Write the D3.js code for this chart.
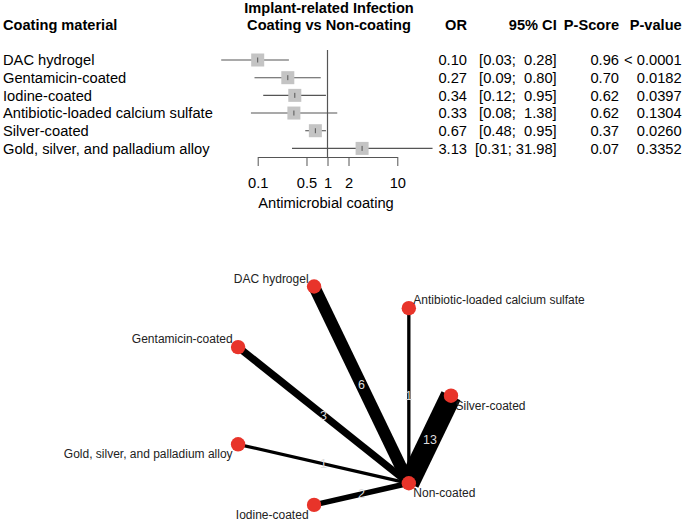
<!DOCTYPE html>
<html><head><meta charset="utf-8">
<script src="https://cdn.jsdelivr.net/npm/d3@7"></script>
<style>
body{margin:0;background:#fff;}
text{font-family:"Liberation Sans",Arial,sans-serif;}
</style></head>
<body><svg id="c" width="685" height="522"></svg>
<script>
// ---------- data ----------
const coatings = ["DAC hydrogel","Gentamicin-coated","Iodine-coated","Antibiotic-loaded calcium sulfate","Silver-coated","Gold, silver, and palladium alloy"];
const orValues = [0.10,0.27,0.34,0.33,0.67,3.13];
const ciLower = [0.03,0.09,0.12,0.08,0.48,0.31];
const ciUpper = [0.28,0.80,0.95,1.38,0.95,31.98];
const orLabels = ["0.10","0.27","0.34","0.33","0.67","3.13"];
const ciLabels = ["[0.03;  0.28]","[0.09;  0.80]","[0.12;  0.95]","[0.08;  1.38]","[0.48;  0.95]","[0.31; 31.98]"];
const pScores = ["0.96","0.70","0.62","0.62","0.37","0.07"];
const pValues = ["< 0.0001","0.0182","0.0397","0.1304","0.0260","0.3352"];
const axisTicks = [0.1,0.5,1,2,10];

// network: treatments (alphabetical), edges vs Non-coated with number of studies
const treatments = ["Antibiotic-loaded calcium sulfate","DAC hydrogel","Gentamicin-coated","Gold, silver, and palladium alloy","Iodine-coated","Non-coated","Silver-coated"];
const edgeFrom = ["DAC hydrogel","Gentamicin-coated","Iodine-coated","Antibiotic-loaded calcium sulfate","Silver-coated","Gold, silver, and palladium alloy"];
const edgeTo = ["Non-coated","Non-coated","Non-coated","Non-coated","Non-coated","Non-coated"];
const edgeStudies = [6,3,2,1,13,1];

// ---------- forest plot ----------
const svg = d3.select("#c");
const fs = 14.7;
const x = d3.scaleLog().domain([0.1,10]).range([257.7,397.3]);
const y = d3.scalePoint().domain(coatings).range([60,148.4]);
const axisY = 157;

const hdr = svg.append("g").attr("font-weight","bold").attr("font-size",14.6);
hdr.append("text").attr("x",3).attr("y",25).attr("dy","0.35em").text("Coating material");
hdr.append("text").attr("x",329).attr("y",7.5).attr("dy","0.35em").attr("text-anchor","middle").text("Implant-related Infection");
hdr.append("text").attr("x",329).attr("y",25).attr("dy","0.35em").attr("text-anchor","middle").text("Coating vs Non-coating");
const colX = [467,556.7,619,681.7];
["OR","95% CI","P-Score","P-value"].forEach((h,i)=>{
  hdr.append("text").attr("x",colX[i]).attr("y",25).attr("dy","0.35em").attr("text-anchor","end").text(h);
});

// reference line
svg.append("line").attr("x1",x(1)).attr("x2",x(1)).attr("y1",50).attr("y2",axisY)
  .attr("stroke","#555").attr("stroke-width",1.2);

const rows = svg.append("g").selectAll("g").data(coatings).join("g");
rows.append("text").attr("x",3).attr("y",d=>y(d)).attr("dy","0.35em").attr("font-size",fs).text(d=>d);
rows.append("line").attr("x1",(d,i)=>x(ciLower[i])).attr("x2",(d,i)=>x(ciUpper[i]))
  .attr("y1",d=>y(d)).attr("y2",d=>y(d)).attr("stroke","#555").attr("stroke-width",1.1);
const bs = 13;
rows.append("rect").attr("x",(d,i)=>x(orValues[i])-bs/2).attr("y",d=>y(d)-bs/2)
  .attr("width",bs).attr("height",bs).attr("fill","#c4c4c4");
rows.append("line").attr("x1",(d,i)=>x(orValues[i])).attr("x2",(d,i)=>x(orValues[i]))
  .attr("y1",d=>y(d)-2.5).attr("y2",d=>y(d)+2.5).attr("stroke","#555").attr("stroke-width",1);
const cols = [orLabels,ciLabels,pScores,pValues];
cols.forEach((arr,ci)=>{
  rows.append("text").attr("x",colX[ci]).attr("y",d=>y(d)).attr("dy","0.35em")
    .attr("text-anchor","end").attr("font-size",fs).style("white-space","pre")
    .text((d,i)=>arr[i]);
});

// axis
const ax = svg.append("g").attr("transform",`translate(0,${axisY})`)
  .call(d3.axisBottom(x).tickValues(axisTicks).tickFormat(d=>String(d)).tickSize(9).tickSizeOuter(0).tickPadding(12));
ax.select(".domain").attr("stroke","#555");
ax.selectAll(".tick line").attr("stroke","#555");
ax.selectAll("text").attr("font-size",fs).attr("fill","#000");
svg.append("text").attr("x",326).attr("y",203).attr("dy","0.35em").attr("text-anchor","middle")
  .attr("font-size",fs).text("Antimicrobial coating");

// ---------- network graph ----------
const cx = 339, cy = 395.7, R = 112;
const ang = d3.scaleLinear().domain([0,treatments.length]).range([0,-2*Math.PI]);
const pos = {};
treatments.forEach((t,i)=>{
  const a = ang(i+1);
  pos[t] = {x: cx + R*Math.cos(a), y: cy + R*Math.sin(a), c: Math.cos(a), s: Math.sin(a)};
});
const w = d3.scalePow().exponent(0.72).domain([0,13]).range([0,21]);
const net = svg.append("g");
const edges = edgeFrom.map((f,i)=>({f, t: edgeTo[i], n: edgeStudies[i]}));
net.selectAll("line.e").data(edges).join("line").attr("class","e")
  .attr("x1",d=>pos[d.f].x).attr("y1",d=>pos[d.f].y)
  .attr("x2",d=>pos[d.t].x).attr("y2",d=>pos[d.t].y)
  .attr("stroke","#000").attr("stroke-width",d=>w(d.n));
net.selectAll("text.el").data(edges).join("text").attr("class","el")
  .attr("x",d=>(pos[d.f].x+pos[d.t].x)/2).attr("y",d=>(pos[d.f].y+pos[d.t].y)/2)
  .attr("dy","0.35em").attr("text-anchor","middle").attr("font-size",12.5)
  .attr("fill","#dcdcdc")
  .text(d=>d.n);
net.selectAll("circle").data(treatments).join("circle")
  .attr("cx",d=>pos[d].x).attr("cy",d=>pos[d].y).attr("r",7.2).attr("fill","#e8342a");
net.selectAll("text.nl").data(treatments).join("text").attr("class","nl")
  .attr("x",d=>pos[d].x + (pos[d].c < -0.01 ? -5.5 : 4.5))
  .attr("y",d=>pos[d].y + (pos[d].s < -0.01 ? -8 : 10))
  .attr("dy","0.35em").attr("font-size",12)
  .attr("text-anchor",d=>pos[d].c < -0.01 ? "end" : "start")
  .attr("fill","#222")
  .text(d=>d);
</script></body></html>
